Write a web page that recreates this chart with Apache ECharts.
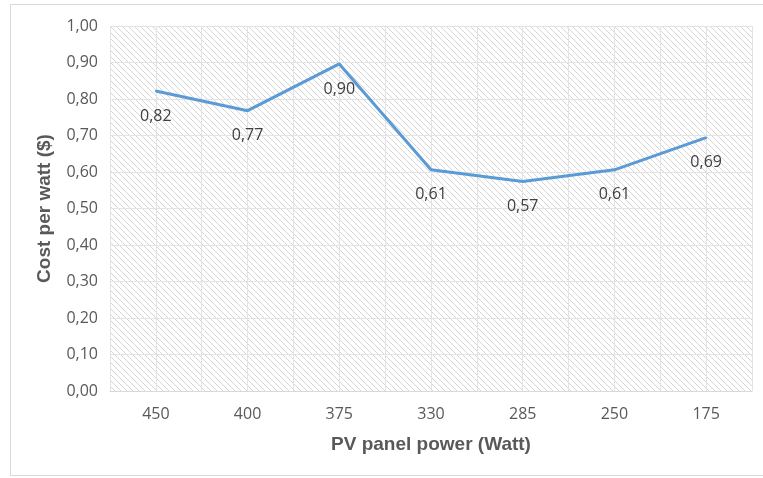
<!DOCTYPE html>
<html>
<head>
<meta charset="utf-8">
<script src="https://cdn.jsdelivr.net/npm/echarts@6/dist/echarts.min.js"></script>
<style>
  html, body { margin: 0; padding: 0; background: #fff; }
  #chart { width: 763px; height: 478px; }
</style>
</head>
<body>
<div id="chart"></div>
<script>
// data
var panelPower = ['450', '400', '375', '330', '285', '250', '175'];
var costPerWatt = [0.822, 0.768, 0.896, 0.606, 0.574, 0.606, 0.694];
var halfSteps = [0, 14]; // second axis only draws the extra vertical grid lines

// diagonal hatch for the plot area
function hatch() {
  var c = document.createElement('canvas');
  c.width = 6; c.height = 6;
  var ctx = c.getContext('2d');
  ctx.fillStyle = '#ffffff';
  ctx.fillRect(0, 0, 6, 6);
  ctx.strokeStyle = '#d6d6d6';
  ctx.lineWidth = 1;
  ctx.beginPath();
  ctx.moveTo(-1, -1); ctx.lineTo(7, 7);
  ctx.moveTo(-4, 2); ctx.lineTo(4, 10);
  ctx.moveTo(2, -4); ctx.lineTo(10, 4);
  ctx.stroke();
  return c;
}

function comma(v) {
  return v.toFixed(2).replace('.', ',');
}

var chart = echarts.init(document.getElementById('chart'));
var labelFont = '"Open Sans", "Noto Sans", sans-serif';

chart.setOption({
  backgroundColor: '#fff',
  animation: false,
  graphic: [{
    type: 'rect',
    shape: { x: 10.5, y: 4.5, width: 760, height: 471 },
    style: { fill: 'none', stroke: '#d9d9d9', lineWidth: 1 },
    silent: true
  }],
  grid: {
    left: 110, right: 11, top: 26, bottom: 87,
    show: true,
    borderWidth: 0,
    backgroundColor: { image: hatch(), repeat: 'repeat' }
  },
  xAxis: [{
    type: 'category',
    data: panelPower,
    boundaryGap: true,
    name: 'PV panel power (Watt)',
    nameLocation: 'middle',
    nameGap: 44,
    nameTextStyle: { fontFamily: 'Liberation Sans, Arial', fontWeight: 'bold', fontSize: 19, color: '#595959' },
    axisLine: { lineStyle: { color: '#d9d9d9', width: 1 } },
    axisTick: { show: false },
    axisLabel: { color: '#595959', fontSize: 16, fontFamily: labelFont, margin: 15 },
    splitLine: { show: true, interval: 0, lineStyle: { color: '#e3e3e3', width: 1 } }
  }, {
    type: 'value',
    min: halfSteps[0],
    max: halfSteps[1],
    interval: 1,
    position: 'bottom',
    axisLine: { show: false },
    axisTick: { show: false },
    axisLabel: { show: false },
    splitLine: { show: true, lineStyle: { color: '#e3e3e3', width: 1 } }
  }],
  yAxis: {
    type: 'value',
    min: 0,
    max: 1,
    interval: 0.1,
    name: 'Cost per watt ($)',
    nameLocation: 'middle',
    nameGap: 56,
    nameTextStyle: { fontFamily: 'Liberation Sans, Arial', fontWeight: 'bold', fontSize: 19, color: '#595959' },
    axisLine: { show: false },
    axisTick: { show: false },
    axisLabel: { color: '#595959', fontSize: 16, fontFamily: labelFont, margin: 12, formatter: comma },
    splitLine: { lineStyle: { color: '#e3e3e3', width: 1 } }
  },
  series: [{
    type: 'line',
    xAxisIndex: 0,
    data: costPerWatt,
    symbol: 'circle',
    symbolSize: 2,
    showSymbol: true,
    itemStyle: { color: '#5b9bd5' },
    lineStyle: { color: '#5b9bd5', width: 3 },
    labelLayout: { hideOverlap: false },
    label: {
      show: true,
      position: 'bottom',
      distance: 16,
      color: '#404040',
      fontSize: 16,
      fontFamily: labelFont,
      formatter: function (p) { return comma(p.value); }
    }
  }]
});
</script>
</body>
</html>
